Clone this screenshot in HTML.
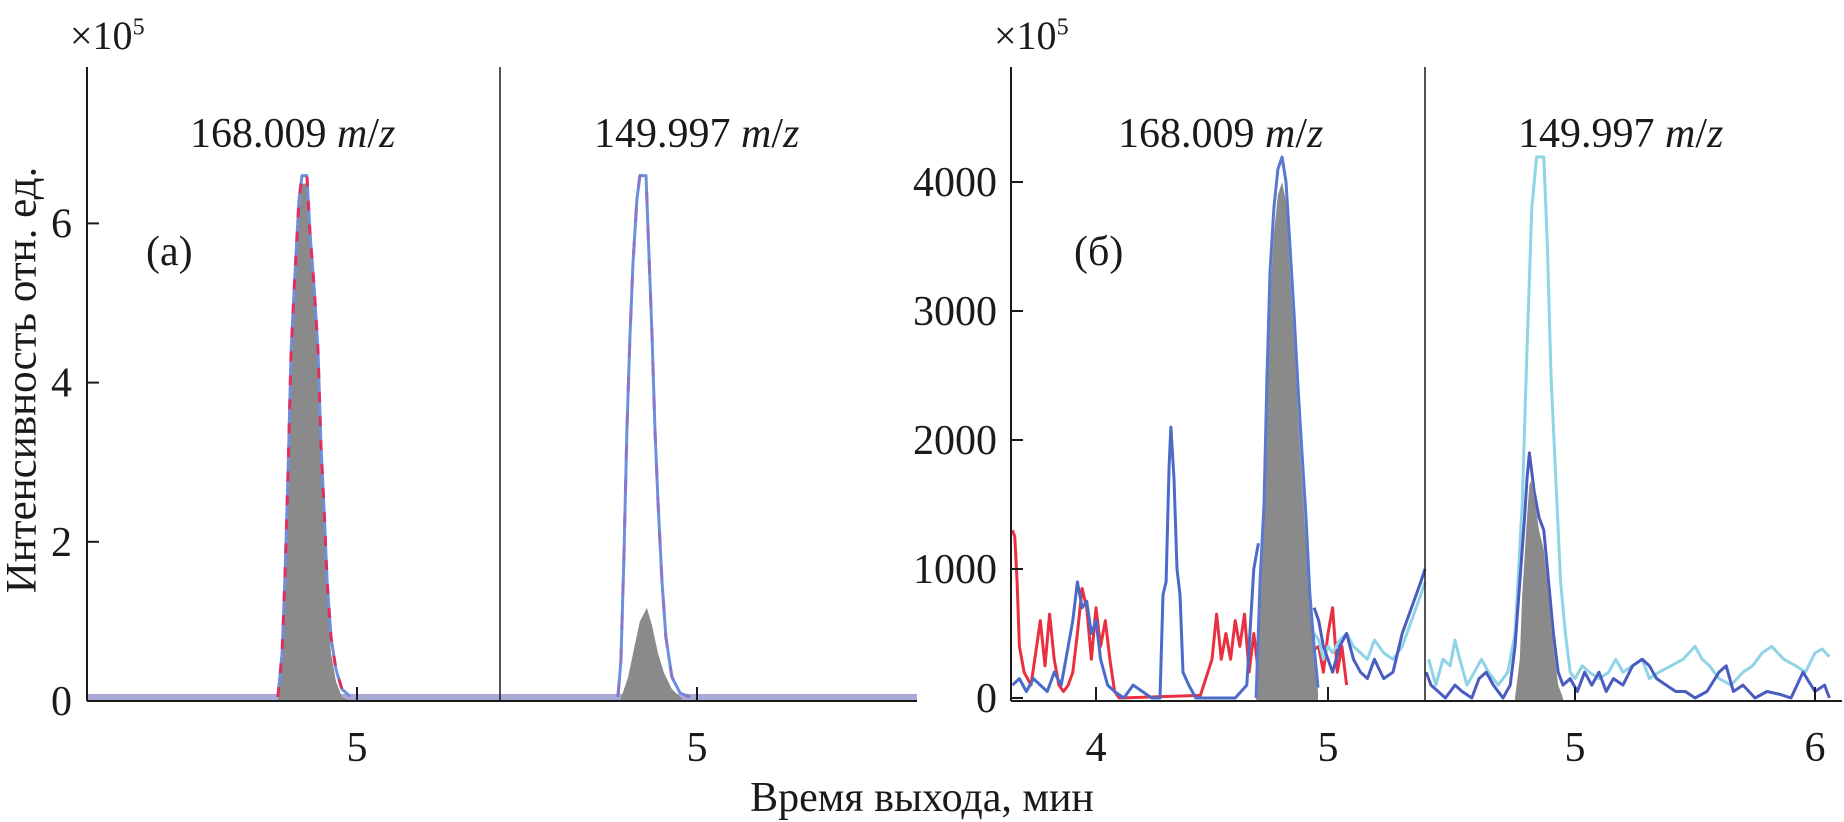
<!DOCTYPE html>
<html><head><meta charset="utf-8">
<style>
html,body{margin:0;padding:0;background:#fff;}
svg{display:block;font-family:"Liberation Serif",serif;}
</style></head>
<body>
<svg id="chart" width="1844" height="822" viewBox="0 0 1844 822">
<g id="marks"></g>
<g id="axes"></g>
</svg>
<script>
// ---------- data (time in min, intensity) ----------
// panel (a) left: 168.009
const a1Times = [4.659,4.677,4.690,4.703,4.716,4.733,4.750,4.763,4.784,4.797,4.815,4.832,4.845,4.858,4.871,4.888,4.909,4.935,4.970];
const a1Outline = [0.05,0.6,1.6,2.9,4.4,5.4,6.3,6.6,6.6,5.9,5.2,4.4,3.2,2.4,1.5,0.8,0.4,0.15,0.06];
const a1Fill = [0.0,0.5,1.5,2.8,4.2,5.2,6.1,6.5,6.5,5.8,5.0,4.2,3.0,2.2,1.3,0.6,0.25,0.05,0.0];
// panel (a) right: 149.997
const a2Times = [4.659,4.672,4.685,4.698,4.711,4.724,4.741,4.754,4.780,4.793,4.806,4.819,4.832,4.849,4.866,4.892,4.927,4.970];
const a2Outline = [0.05,0.5,1.8,3.4,4.6,5.5,6.3,6.6,6.6,5.6,4.6,3.4,2.5,1.5,0.8,0.3,0.1,0.05];
const a2FillTimes = [4.668,4.703,4.728,4.754,4.784,4.806,4.832,4.858,4.892,4.935];
const a2Fill = [0,0.3,0.65,1.0,1.17,0.95,0.6,0.35,0.15,0.03];
// panel (б) left: 168.009
const b1PeakTimes = [4.690,4.707,4.724,4.737,4.750,4.767,4.784,4.802,4.819,4.836,4.853,4.871,4.888,4.905,4.922,4.940,4.957];
const b1PeakFill = [0,700,1300,2300,3100,3600,3900,4000,3850,3300,2800,2200,1700,1200,700,300,50];
const b1PeakOutline = [0,900,1500,2500,3300,3800,4100,4250,4000,3500,3000,2400,1900,1400,800,400,80];
const b1RedTimes = [3.64,3.65,3.66,3.67,3.69,3.72,3.74,3.76,3.78,3.80,3.82,3.84,3.86,3.88,3.90,3.92,3.94,3.96,3.98,4.00,4.02,4.04,4.06,4.08,4.10,4.45,4.50,4.52,4.54,4.56,4.58,4.60,4.62,4.64,4.66,4.68,4.70,4.72,4.96,4.98,5.00,5.02,5.04,5.06,5.08];
const b1RedVals = [1300,1250,900,400,200,100,350,600,250,650,300,100,50,100,200,500,850,700,300,700,400,600,300,50,0,20,300,650,300,500,300,600,400,650,200,500,200,100,400,200,500,700,200,400,100];
const b1BlueTimes = [3.64,3.67,3.70,3.73,3.76,3.79,3.82,3.85,3.88,3.90,3.92,3.94,3.96,3.98,4.00,4.02,4.05,4.08,4.12,4.16,4.20,4.24,4.276,4.289,4.302,4.315,4.323,4.336,4.349,4.362,4.375,4.40,4.43,4.50,4.60,4.65,4.68,4.70];
const b1BlueVals = [100,150,50,150,100,50,200,100,400,600,900,700,750,500,600,300,100,50,0,100,50,0,0,800,900,1800,2100,1700,1000,800,200,100,0,0,0,100,1000,1200];
const b1TailTimes = [4.94,4.96,4.98,5.00,5.02,5.05,5.08,5.11,5.14,5.17,5.20,5.24,5.28,5.32,5.36,5.40,5.418];
const b1TailVals = [700,600,400,300,200,400,500,300,200,150,300,150,200,500,700,900,1000];
const b1CyanTailVals = [500,450,300,400,350,450,500,400,350,300,450,350,300,400,600,800,900];
// panel (б) right: 149.997
const b2CyanTimes = [4.39,4.42,4.45,4.48,4.50,4.52,4.55,4.58,4.61,4.64,4.68,4.72,4.75,4.78,4.80,4.82,4.84,4.87,4.885,4.90,4.92,4.94,4.96,4.98,5.00,5.03,5.06,5.10,5.14,5.17,5.20,5.24,5.28,5.31,5.35,5.40,5.45,5.50,5.53,5.56,5.60,5.65,5.70,5.74,5.78,5.82,5.87,5.92,5.96,6.00,6.03,6.06];
const b2CyanVals = [300,100,300,250,450,300,100,200,300,200,100,200,500,1500,2700,3800,4200,4200,3500,2500,1700,900,500,200,150,250,200,150,200,300,200,250,300,150,200,250,300,400,300,250,150,100,200,250,350,400,300,250,200,350,380,320];
const b2BlueTimes = [4.38,4.40,4.43,4.46,4.50,4.53,4.57,4.60,4.63,4.66,4.70,4.73,4.75,4.77,4.79,4.80,4.81,4.83,4.85,4.87,4.89,4.91,4.93,4.95,4.98,5.01,5.04,5.07,5.10,5.13,5.16,5.20,5.24,5.28,5.31,5.34,5.38,5.42,5.46,5.50,5.55,5.60,5.63,5.66,5.70,5.75,5.80,5.85,5.90,5.95,6.00,6.04,6.06];
const b2BlueVals = [200,100,50,0,100,50,0,150,200,100,0,100,400,900,1400,1700,1900,1600,1400,1300,900,500,200,100,150,50,200,100,200,50,150,100,250,300,250,150,100,50,50,0,50,200,250,50,100,0,50,30,0,200,50,100,0];
const b2FillTimes = [4.75,4.77,4.78,4.79,4.80,4.81,4.82,4.835,4.85,4.87,4.89,4.91,4.93,4.95];
const b2FillVals = [0,300,800,1100,1400,1650,1700,1500,1300,1150,800,400,100,0];
// ticks
const aYTicks = [0,2,4,6];
const bYTicks = [0,1000,2000,3000,4000];
const bXTicksLeft = [4,5];
const bXTicksRight = [5,6];

// ---------- scales ----------
const Y0 = 701, TOP = 67;
function lin(d0,d1,r0,r1){return v=>r0+(v-d0)*(r1-r0)/(d1-d0);}
const yA = lin(0,6,701,223.4);
const yB = lin(0,4000,698,182);
const xA1 = lin(5,6,357,589);
const xA2 = lin(5,6,697,929);
const xB1 = lin(4,5,1096,1328);
const xB2 = lin(5,6,1575,1815);
const NS='http://www.w3.org/2000/svg';
const marks=document.getElementById('marks');
const axes=document.getElementById('axes');
function clipY(y){return Math.max(y,157);}
function pathD(ts,vs,xs,ys,close){
  let d='';
  ts.forEach((t,i)=>{const x=xs(t),y=clipY(ys(vs[i]));d+=(i?'L':'M')+x.toFixed(1)+','+y.toFixed(1);});
  if(close){d+='L'+xs(ts[ts.length-1]).toFixed(1)+','+Y0+'L'+xs(ts[0]).toFixed(1)+','+Y0+'Z';}
  return d;
}
function addPath(d,fill,stroke,w,name,dash){
  const p=document.createElementNS(NS,'path');
  p.setAttribute('d',d);p.setAttribute('fill',fill);p.setAttribute('stroke',stroke);
  p.setAttribute('stroke-width',w);p.setAttribute('stroke-linejoin','round');
  if(dash)p.setAttribute('stroke-dasharray',dash);
  
  
  marks.appendChild(p);
}
addPath('M88,697L917,697','none','#a9a9d8',6,'baseline-a');
addPath(pathD(a1Times,a1Fill,xA1,yA,true),'#8a8a8a','none',0,'peak-fill-a1');
addPath(pathD(a1Times,a1Outline,xA1,yA,false),'none','#6f8fdc',3,'peak-outline-a1');
addPath(pathD(a1Times,a1Outline,xA1,yA,false),'none','#e0305a',3,'peak-red-a1','10 14');
addPath(pathD(a2FillTimes,a2Fill,xA2,yA,true),'#8a8a8a','none',0,'peak-fill-a2');
addPath(pathD(a2Times,a2Outline,xA2,yA,false),'none','#6f8fdc',3,'peak-outline-a2');
addPath(pathD(a2Times,a2Outline,xA2,yA,false),'none','#8878c8',3,'peak-outline2-a2','14 20');
addPath(pathD(b1RedTimes,b1RedVals,xB1,yB,false),'none','#e83040',3,'noise-red-b1');
addPath(pathD(b1BlueTimes,b1BlueVals,xB1,yB,false),'none','#4a6cc8',3,'noise-blue-b1');
addPath(pathD(b1TailTimes,b1CyanTailVals,xB1,yB,false),'none','#8fd3e6',3,'noise-cyan-b1');
addPath(pathD(b1TailTimes,b1TailVals,xB1,yB,false),'none','#4a5cc0',3,'noise-tail-b1');
addPath(pathD(b1PeakTimes,b1PeakFill,xB1,yB,true),'#8a8a8a','none',0,'peak-fill-b1');
addPath(pathD(b1PeakTimes,b1PeakOutline,xB1,yB,false),'none','#5b78d0',3,'peak-outline-b1');
addPath(pathD(b2CyanTimes,b2CyanVals,xB2,yB,false),'none','#8fd3e6',3,'trace-cyan-b2');
addPath(pathD(b2BlueTimes,b2BlueVals,xB2,yB,false),'none','#4a5cc0',3,'trace-blue-b2');
addPath(pathD(b2FillTimes,b2FillVals,xB2,yB,true),'#8a8a8a','none',0,'peak-fill-b2');

function line(x1,y1,x2,y2,name,w){
  const l=document.createElementNS(NS,'line');
  l.setAttribute('x1',x1);l.setAttribute('y1',y1);l.setAttribute('x2',x2);l.setAttribute('y2',y2);
  l.setAttribute('stroke','#1a1a1a');l.setAttribute('stroke-width',w||2);
  
  
  axes.appendChild(l);
}
function text(x,y,s,anchor,size,name){
  const t=document.createElementNS(NS,'text');
  t.setAttribute('x',x);t.setAttribute('y',y);t.setAttribute('text-anchor',anchor);
  t.setAttribute('font-size',size);t.setAttribute('fill','#1a1a1a');t.textContent=s;
  
  
  axes.appendChild(t);
}
line(87,TOP,87,Y0,'y-axis-a');line(87,Y0,917,Y0,'x-axis-a');line(500,TOP,500,Y0,'divider-a',1.5);
line(1011,TOP,1011,Y0,'y-axis-b');line(1011,Y0,1842,Y0,'x-axis-b');line(1425,TOP,1425,Y0,'divider-b',1.5);
aYTicks.forEach(v=>{const y=yA(v);line(87,y,99,y,'y-tick-a');text(72,y+14,String(v),'end',42,'y-tick-label-a');});
bYTicks.forEach(v=>{const y=yB(v);line(1011,y,1023,y,'y-tick-b');text(997,y+14,String(v),'end',42,'y-tick-label-b');});
[[xA1,5],[xA2,5]].forEach(([f,v])=>{const x=f(v);line(x,Y0,x,Y0-14,'x-tick-a');text(x,761,String(v),'middle',42,'x-tick-label-a');});
bXTicksLeft.forEach(v=>{const x=xB1(v);line(x,Y0,x,Y0-14,'x-tick-b1');text(x,761,String(v),'middle',42,'x-tick-label-b1');});
bXTicksRight.forEach(v=>{const x=xB2(v);line(x,Y0,x,Y0-14,'x-tick-b2');text(x,761,String(v),'middle',42,'x-tick-label-b2');});
</script>
<div style="position:absolute;left:0;top:0;width:1844px;height:822px;pointer-events:none;font-family:'Liberation Serif',serif;color:#1a1a1a;">
  <div style="position:absolute;left:70px;top:12px;font-size:40px;">×10<sup style="font-size:24px;">5</sup></div>
  <div style="position:absolute;left:994px;top:12px;font-size:40px;">×10<sup style="font-size:24px;">5</sup></div>
  <div style="position:absolute;left:190px;top:110px;font-size:42px;">168.009 <i>m</i>/<i>z</i></div>
  <div style="position:absolute;left:594px;top:110px;font-size:42px;">149.997 <i>m</i>/<i>z</i></div>
  <div style="position:absolute;left:1118px;top:110px;font-size:42px;">168.009 <i>m</i>/<i>z</i></div>
  <div style="position:absolute;left:1518px;top:110px;font-size:42px;">149.997 <i>m</i>/<i>z</i></div>
  <div style="position:absolute;left:146px;top:228px;font-size:42px;">(а)</div>
  <div style="position:absolute;left:1074px;top:228px;font-size:42px;">(б)</div>
  <div style="position:absolute;left:22px;top:380px;font-size:43px;white-space:nowrap;transform:translate(-50%,-50%) rotate(-90deg);">Интенсивность отн. ед.</div>
  <div style="position:absolute;left:922px;top:774px;font-size:42px;white-space:nowrap;transform:translateX(-50%);">Время выхода, мин</div>
</div>
</body></html>
